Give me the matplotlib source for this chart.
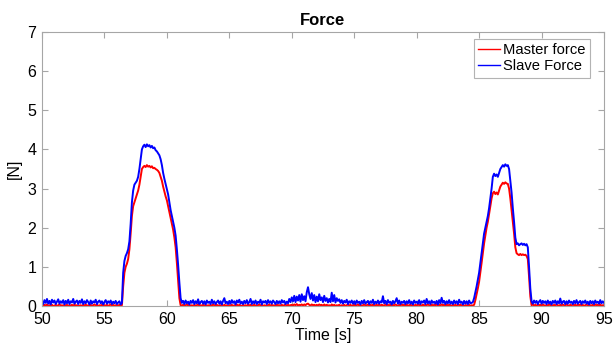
import numpy as np
import matplotlib
matplotlib.use('Agg')
import matplotlib.pyplot as plt

plt.rcParams['font.family'] = ['Liberation Sans', 'DejaVu Sans']

# sampled at 0.1 s from t = 50.0 s, one row per second
T_START = 50.0
T_STEP = 0.1

MASTER_FORCE = [
    0.02, 0.00, 0.03, 0.01, 0.04, 0.00, 0.02, 0.01, 0.03, 0.00,  # 50
    0.01, 0.03, 0.00, 0.02, 0.04, 0.01, 0.02, 0.00, 0.03, 0.01,  # 51
    0.03, 0.00, 0.02, 0.01, 0.03, 0.00, 0.04, 0.01, 0.02, 0.00,  # 52
    0.01, 0.02, 0.00, 0.03, 0.01, 0.04, 0.00, 0.02, 0.01, 0.03,  # 53
    0.00, 0.02, 0.04, 0.01, 0.03, 0.00, 0.02, 0.01, 0.03, 0.00,  # 54
    0.02, 0.01, 0.03, 0.00, 0.02, 0.04, 0.01, 0.03, 0.00, 0.02,  # 55
    0.02, 0.01, 0.03, 0.00, 0.02, 0.50, 0.85, 1.00, 1.08, 1.20,  # 56
    1.45, 1.85, 2.30, 2.55, 2.65, 2.75, 2.85, 2.95, 3.10, 3.30,  # 57
    3.50, 3.55, 3.58, 3.55, 3.60, 3.56, 3.58, 3.54, 3.57, 3.52,  # 58
    3.53, 3.50, 3.48, 3.45, 3.40, 3.30, 3.20, 3.05, 2.92, 2.80,  # 59
    2.70, 2.55, 2.40, 2.25, 2.10, 1.95, 1.75, 1.50, 1.10, 0.65,  # 60
    0.20, 0.02, 0.01, 0.03, 0.00, 0.02, 0.04, 0.01, 0.03, 0.00,  # 61
    0.02, 0.00, 0.03, 0.01, 0.02, 0.04, 0.00, 0.02, 0.01, 0.03,  # 62
    0.01, 0.03, 0.00, 0.02, 0.01, 0.03, 0.00, 0.04, 0.02, 0.01,  # 63
    0.03, 0.00, 0.02, 0.01, 0.04, 0.00, 0.03, 0.01, 0.02, 0.00,  # 64
    0.02, 0.01, 0.03, 0.00, 0.02, 0.01, 0.04, 0.00, 0.03, 0.01,  # 65
    0.00, 0.03, 0.01, 0.02, 0.00, 0.04, 0.01, 0.03, 0.00, 0.02,  # 66
    0.03, 0.01, 0.00, 0.02, 0.04, 0.01, 0.03, 0.00, 0.02, 0.01,  # 67
    0.01, 0.02, 0.04, 0.00, 0.03, 0.01, 0.02, 0.00, 0.03, 0.02,  # 68
    0.02, 0.00, 0.03, 0.01, 0.02, 0.04, 0.00, 0.03, 0.01, 0.02,  # 69
    0.03, 0.01, 0.04, 0.02, 0.05, 0.01, 0.03, 0.02, 0.04, 0.01,  # 70
    0.04, 0.02, 0.05, 0.06, 0.03, 0.01, 0.04, 0.02, 0.03, 0.01,  # 71
    0.03, 0.01, 0.04, 0.02, 0.03, 0.00, 0.04, 0.01, 0.03, 0.01,  # 72
    0.02, 0.00, 0.04, 0.01, 0.03, 0.00, 0.02, 0.01, 0.03, 0.00,  # 73
    0.02, 0.01, 0.03, 0.00, 0.02, 0.04, 0.01, 0.03, 0.00, 0.02,  # 74
    0.03, 0.00, 0.02, 0.04, 0.01, 0.03, 0.00, 0.02, 0.04, 0.01,  # 75
    0.02, 0.04, 0.00, 0.03, 0.01, 0.04, 0.00, 0.02, 0.03, 0.01,  # 76
    0.04, 0.01, 0.03, 0.02, 0.00, 0.04, 0.02, 0.03, 0.01, 0.04,  # 77
    0.00, 0.03, 0.01, 0.04, 0.02, 0.00, 0.03, 0.01, 0.04, 0.02,  # 78
    0.03, 0.01, 0.04, 0.00, 0.02, 0.03, 0.01, 0.04, 0.00, 0.03,  # 79
    0.01, 0.04, 0.02, 0.03, 0.00, 0.04, 0.01, 0.03, 0.02, 0.04,  # 80
    0.02, 0.00, 0.04, 0.01, 0.03, 0.02, 0.04, 0.00, 0.03, 0.01,  # 81
    0.04, 0.02, 0.03, 0.00, 0.04, 0.01, 0.03, 0.02, 0.00, 0.04,  # 82
    0.01, 0.03, 0.00, 0.04, 0.02, 0.03, 0.01, 0.04, 0.00, 0.02,  # 83
    0.02, 0.01, 0.03, 0.00, 0.02, 0.01, 0.03, 0.15, 0.30, 0.45,  # 84
    0.62, 0.85, 1.10, 1.35, 1.60, 1.80, 2.00, 2.15, 2.35, 2.55,  # 85
    2.75, 2.88, 2.92, 2.86, 2.90, 2.85, 2.95, 3.05, 3.10, 3.15,  # 86
    3.12, 3.16, 3.13, 3.12, 3.00, 2.75, 2.45, 2.15, 1.85, 1.50,  # 87
    1.35, 1.32, 1.30, 1.33, 1.30, 1.32, 1.30, 1.31, 1.28, 1.20,  # 88
    0.75, 0.25, 0.02, 0.04, 0.01, 0.03, 0.00, 0.04, 0.02, 0.03,  # 89
    0.01, 0.04, 0.02, 0.00, 0.03, 0.01, 0.04, 0.02, 0.03, 0.00,  # 90
    0.03, 0.01, 0.04, 0.02, 0.00, 0.03, 0.01, 0.04, 0.02, 0.01,  # 91
    0.04, 0.02, 0.00, 0.03, 0.01, 0.04, 0.02, 0.03, 0.00, 0.04,  # 92
    0.02, 0.04, 0.01, 0.03, 0.00, 0.02, 0.04, 0.01, 0.03, 0.02,  # 93
    0.01, 0.03, 0.00, 0.04, 0.02, 0.03, 0.01, 0.04, 0.00, 0.02,  # 94
    0.02,                                                        # 95
]

SLAVE_FORCE = [
    0.12, 0.05, 0.15, 0.08, 0.18, 0.06, 0.13, 0.04, 0.16, 0.09,  # 50
    0.14, 0.05, 0.11, 0.17, 0.06, 0.12, 0.08, 0.15, 0.04, 0.13,  # 51
    0.07, 0.16, 0.05, 0.12, 0.09, 0.18, 0.06, 0.11, 0.14, 0.05,  # 52
    0.13, 0.08, 0.17, 0.05, 0.12, 0.07, 0.15, 0.10, 0.04, 0.14,  # 53
    0.06, 0.12, 0.09, 0.16, 0.05, 0.11, 0.14, 0.07, 0.12, 0.04,  # 54
    0.10, 0.15, 0.06, 0.12, 0.08, 0.14, 0.05, 0.11, 0.07, 0.13,  # 55
    0.05, 0.09, 0.12, 0.04, 0.08, 0.85, 1.15, 1.28, 1.35, 1.45,  # 56
    1.65, 2.10, 2.65, 2.95, 3.10, 3.15, 3.20, 3.30, 3.50, 3.75,  # 57
    4.00, 4.08, 4.12, 4.06, 4.13, 4.08, 4.11, 4.05, 4.09, 4.03,  # 58
    4.05, 3.98, 3.95, 3.90, 3.85, 3.75, 3.60, 3.40, 3.25, 3.12,  # 59
    3.00, 2.85, 2.65, 2.45, 2.30, 2.15, 2.00, 1.80, 1.45, 1.05,  # 60
    0.60, 0.20, 0.08, 0.13, 0.05, 0.14, 0.07, 0.11, 0.04, 0.13,  # 61
    0.08, 0.15, 0.05, 0.12, 0.07, 0.17, 0.05, 0.10, 0.13, 0.06,  # 62
    0.12, 0.04, 0.14, 0.08, 0.11, 0.05, 0.16, 0.07, 0.12, 0.05,  # 63
    0.10, 0.14, 0.06, 0.12, 0.04, 0.13, 0.20, 0.07, 0.11, 0.05,  # 64
    0.13, 0.06, 0.15, 0.08, 0.12, 0.04, 0.14, 0.09, 0.16, 0.06,  # 65
    0.11, 0.05, 0.13, 0.07, 0.15, 0.06, 0.10, 0.18, 0.05, 0.12,  # 66
    0.07, 0.14, 0.05, 0.11, 0.08, 0.16, 0.04, 0.12, 0.09, 0.13,  # 67
    0.05, 0.15, 0.08, 0.12, 0.06, 0.14, 0.10, 0.05, 0.13, 0.07,  # 68
    0.12, 0.06, 0.15, 0.09, 0.13, 0.05, 0.11, 0.07, 0.18, 0.10,  # 69
    0.22, 0.12, 0.26, 0.10, 0.24, 0.14, 0.28, 0.11, 0.30, 0.15,  # 70
    0.25, 0.12, 0.35, 0.48, 0.30, 0.18, 0.33, 0.14, 0.28, 0.10,  # 71
    0.24, 0.12, 0.30, 0.15, 0.22, 0.10, 0.26, 0.13, 0.20, 0.09,  # 72
    0.18, 0.10, 0.34, 0.12, 0.28, 0.09, 0.20, 0.13, 0.17, 0.08,  # 73
    0.15, 0.06, 0.13, 0.09, 0.16, 0.05, 0.12, 0.08, 0.14, 0.06,  # 74
    0.12, 0.05, 0.14, 0.08, 0.11, 0.04, 0.13, 0.07, 0.15, 0.06,  # 75
    0.10, 0.13, 0.05, 0.12, 0.08, 0.16, 0.05, 0.11, 0.07, 0.14,  # 76
    0.06, 0.12, 0.09, 0.25, 0.07, 0.13, 0.05, 0.15, 0.08, 0.11,  # 77
    0.04, 0.13, 0.07, 0.12, 0.20, 0.06, 0.14, 0.05, 0.11, 0.08,  # 78
    0.13, 0.05, 0.12, 0.07, 0.15, 0.06, 0.11, 0.04, 0.14, 0.08,  # 79
    0.11, 0.06, 0.15, 0.05, 0.12, 0.09, 0.14, 0.05, 0.18, 0.07,  # 80
    0.12, 0.05, 0.14, 0.08, 0.11, 0.06, 0.13, 0.04, 0.15, 0.07,  # 81
    0.21, 0.08, 0.13, 0.05, 0.12, 0.07, 0.15, 0.06, 0.11, 0.05,  # 82
    0.14, 0.07, 0.12, 0.05, 0.16, 0.08, 0.11, 0.04, 0.13, 0.06,  # 83
    0.12, 0.05, 0.14, 0.07, 0.08, 0.10, 0.20, 0.35, 0.50, 0.68,  # 84
    0.85, 1.10, 1.35, 1.60, 1.85, 2.00, 2.15, 2.30, 2.50, 2.75,  # 85
    3.00, 3.30, 3.38, 3.32, 3.36, 3.30, 3.40, 3.50, 3.55, 3.60,  # 86
    3.56, 3.62, 3.58, 3.60, 3.50, 3.20, 2.90, 2.50, 2.15, 1.75,  # 87
    1.58, 1.60, 1.55, 1.58, 1.60, 1.56, 1.59, 1.55, 1.58, 1.50,  # 88
    1.00, 0.45, 0.12, 0.06, 0.14, 0.08, 0.13, 0.05, 0.11, 0.15,  # 89
    0.06, 0.13, 0.08, 0.12, 0.05, 0.14, 0.07, 0.11, 0.04, 0.13,  # 90
    0.08, 0.14, 0.05, 0.12, 0.07, 0.19, 0.06, 0.11, 0.13, 0.05,  # 91
    0.12, 0.06, 0.14, 0.08, 0.11, 0.05, 0.13, 0.07, 0.15, 0.06,  # 92
    0.10, 0.13, 0.05, 0.12, 0.08, 0.14, 0.06, 0.11, 0.04, 0.13,  # 93
    0.07, 0.12, 0.05, 0.14, 0.08, 0.11, 0.06, 0.15, 0.07, 0.12,  # 94
    0.08,                                                        # 95
]

X_TICKS = [50, 55, 60, 65, 70, 75, 80, 85, 90, 95]
Y_TICKS = [0, 1, 2, 3, 4, 5, 6, 7]

t = T_START + T_STEP * np.arange(len(SLAVE_FORCE))

fig = plt.figure(figsize=(6.13, 3.48), dpi=100)
ax = fig.add_axes([0.0685, 0.1207, 0.9168, 0.7873])

ax.plot(t, MASTER_FORCE, color='#ff0000', lw=1.4, label='Master force')
ax.plot(t, SLAVE_FORCE, color='#0000ff', lw=1.4, label='Slave Force')

ax.set_xlim(50, 95)
ax.set_ylim(0, 7)
ax.set_xticks(X_TICKS)
ax.set_yticks(Y_TICKS)
ax.tick_params(direction='in', length=4, width=0.8, color='#a6a6a6',
               labelsize=11.5, top=True, right=True, pad=4)
for s in ax.spines.values():
    s.set_color('#a6a6a6')
    s.set_linewidth(0.8)

ax.set_title('Force', fontsize=12, fontweight='bold', pad=5)
ax.set_xlabel('Time [s]', fontsize=11.5, labelpad=1)
ax.set_ylabel('[N]', fontsize=11.5, labelpad=4)

leg = ax.legend(loc='upper right', bbox_to_anchor=(0.975, 0.975), fontsize=10.6,
                handlelength=1.5, handletextpad=0.2, borderpad=0.3,
                labelspacing=0.15, borderaxespad=0.0, fancybox=False)
leg.get_frame().set_edgecolor('#a0a0a0')
leg.get_frame().set_linewidth(0.8)
for h in leg.get_lines():
    h.set_linewidth(1.0)

fig.savefig('out.png', dpi=100)
